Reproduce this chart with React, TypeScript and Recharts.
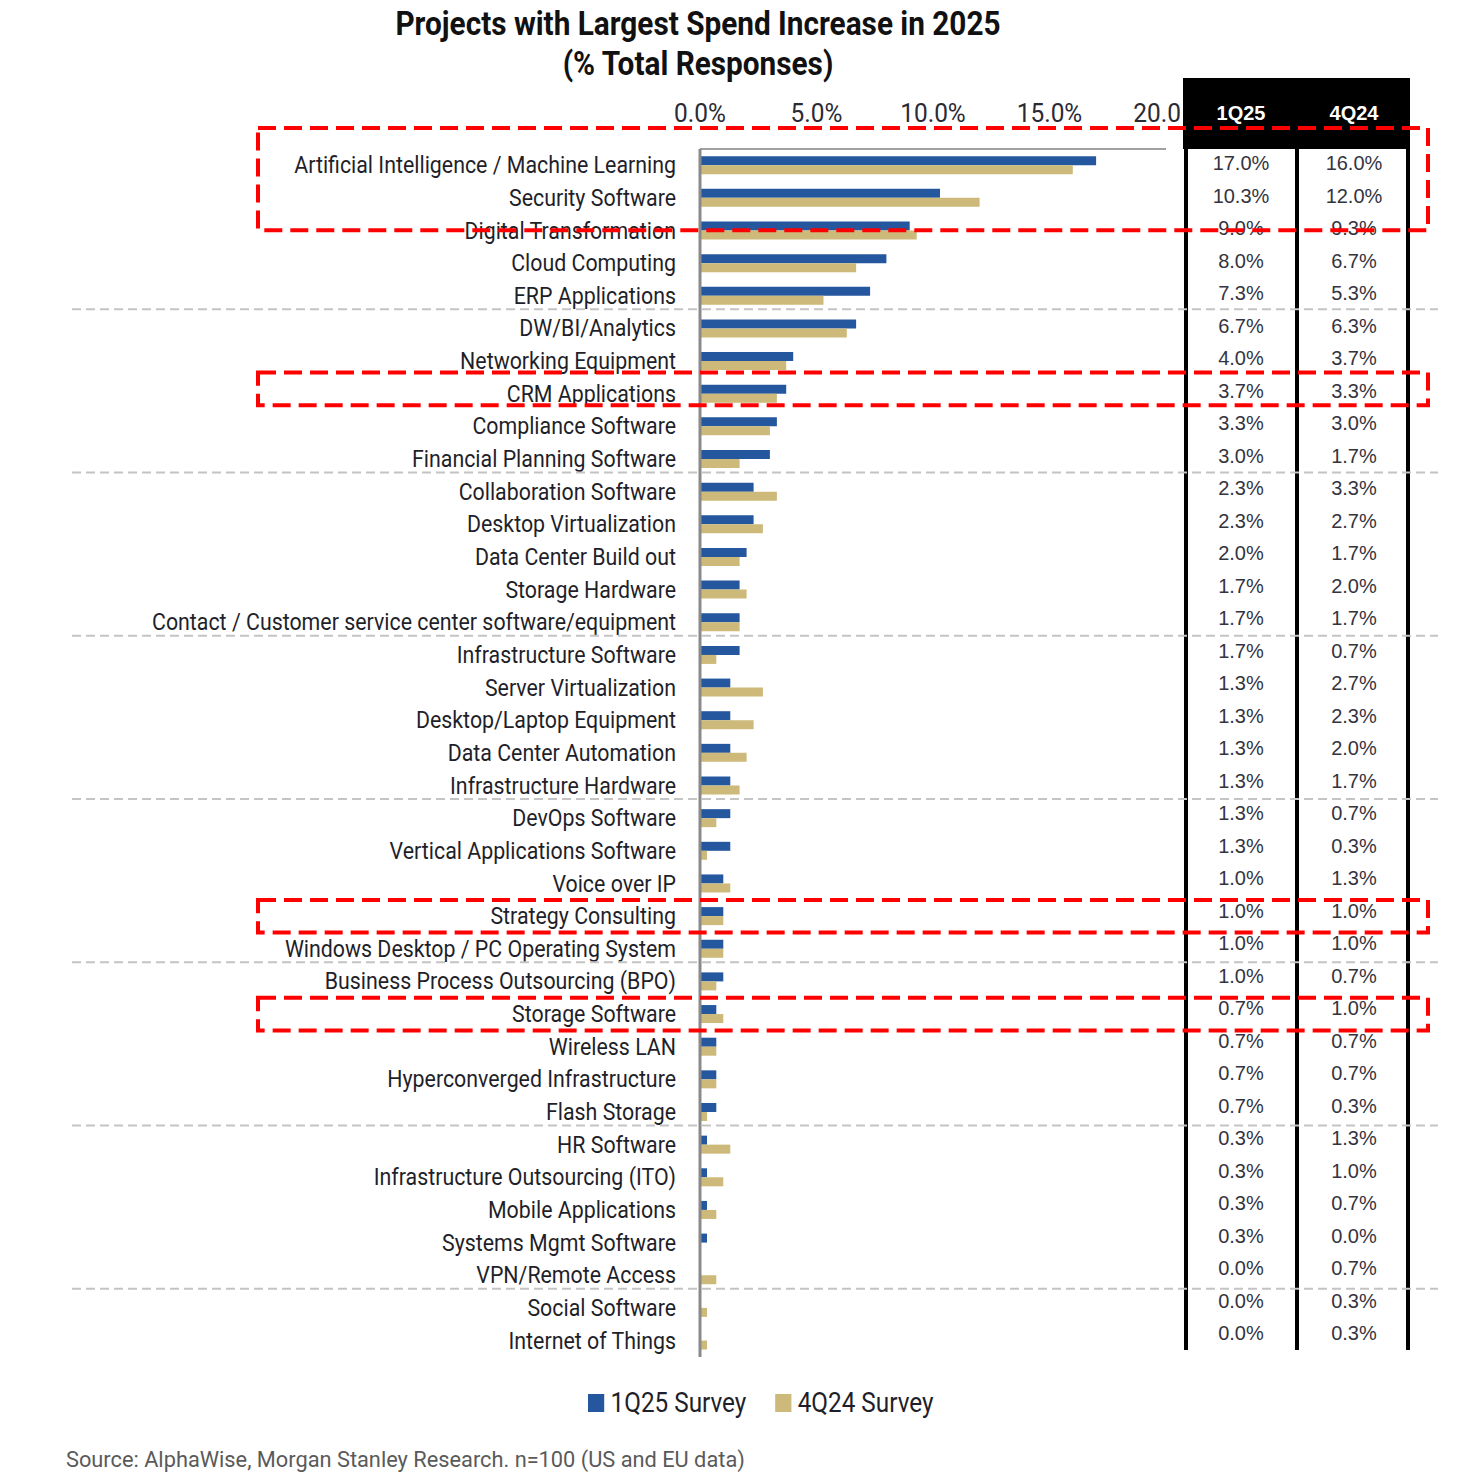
import React from 'react';
import { BarChart, Bar, XAxis, YAxis } from 'recharts';

const categories = [
  'Artificial Intelligence / Machine Learning',
  'Security Software',
  'Digital Transformation',
  'Cloud Computing',
  'ERP Applications',
  'DW/BI/Analytics',
  'Networking Equipment',
  'CRM Applications',
  'Compliance Software',
  'Financial Planning Software',
  'Collaboration Software',
  'Desktop Virtualization',
  'Data Center Build out',
  'Storage Hardware',
  'Contact / Customer service center software/equipment',
  'Infrastructure Software',
  'Server Virtualization',
  'Desktop/Laptop Equipment',
  'Data Center Automation',
  'Infrastructure Hardware',
  'DevOps Software',
  'Vertical Applications Software',
  'Voice over IP',
  'Strategy Consulting',
  'Windows Desktop / PC Operating System',
  'Business Process Outsourcing (BPO)',
  'Storage Software',
  'Wireless LAN',
  'Hyperconverged Infrastructure',
  'Flash Storage',
  'HR Software',
  'Infrastructure Outsourcing (ITO)',
  'Mobile Applications',
  'Systems Mgmt Software',
  'VPN/Remote Access',
  'Social Software',
  'Internet of Things',
];

const survey1Q25 = [
  17.0, 10.3, 9.0, 8.0, 7.3, 6.7, 4.0, 3.7, 3.3, 3.0, 2.3, 2.3, 2.0, 1.7, 1.7, 1.7, 1.3, 1.3, 1.3,
  1.3, 1.3, 1.3, 1.0, 1.0, 1.0, 1.0, 0.7, 0.7, 0.7, 0.7, 0.3, 0.3, 0.3, 0.3, 0.0, 0.0, 0.0,
];

const survey4Q24 = [
  16.0, 12.0, 9.3, 6.7, 5.3, 6.3, 3.7, 3.3, 3.0, 1.7, 3.3, 2.7, 1.7, 2.0, 1.7, 0.7, 2.7, 2.3, 2.0,
  1.7, 0.7, 0.3, 1.3, 1.0, 1.0, 0.7, 1.0, 0.7, 0.7, 0.3, 1.3, 1.0, 0.7, 0.0, 0.7, 0.3, 0.3,
];

const axisTicks = [0, 5, 10, 15, 20];
const tableHeaders = ['1Q25', '4Q24'];
const separatorEvery = 5;
// rows to highlight: [first row, last row, extra top, extra bottom]
const highlights = [
  [0, 1, 21, 16],
  [7, 7, 5, -5],
  [23, 23, 0, 0],
  [26, 26, 0, 0],
];

const BLUE = '#25579E';
const GOLD = '#CDB979';
const FONT = 'Roboto, "Noto Sans", sans-serif';

const PLOT_TOP = 149;
const PLOT_BOTTOM = 1357;
const PLOT_LEFT = 700;
const PLOT_RIGHT = 1166;
const ROW_H = (PLOT_BOTTOM - PLOT_TOP) / categories.length;

const data = categories.map((name, i) => ({ name, q1: survey1Q25[i], q4: survey4Q24[i] }));

const CategoryTick = (props: any) => {
  const { x, y, payload } = props;
  return (
    <text
      transform={`translate(${x},${y}) scale(0.89,1)`}
      textAnchor="end"
      dominantBaseline="central"
      fontFamily={FONT}
      fontSize={24}
      fill="#1f1f2a"
    >
      {payload.value}
    </text>
  );
};

const PercentTick = (props: any) => {
  const { x, y, payload } = props;
  return (
    <text
      transform={`translate(${x},${y}) scale(0.94,1)`}
      textAnchor="middle"
      fontFamily={FONT}
      fontSize={26}
      fill="#2a2a35"
    >
      {Number(payload.value).toFixed(1)}%
    </text>
  );
};

const App: React.FC = () => {
  const tableTop = 163;
  const tableRowH = 32.5;
  const colCenters = [1241, 1354];
  return (
    <div style={{ position: 'absolute', left: 0, top: 0, width: 1468, height: 1478, background: '#fff', overflow: 'hidden' }}>
      <div
        style={{
          position: 'absolute',
          left: 0,
          top: 3,
          width: 1396,
          textAlign: 'center',
          fontFamily: FONT,
          fontWeight: 700,
          fontSize: 34,
          lineHeight: '40px',
          color: '#111',
          transform: 'scaleX(0.875)',
          transformOrigin: '698px 0',
        }}
      >
        Projects with Largest Spend Increase in 2025
        <br />
        (% Total Responses)
      </div>

      <div style={{ position: 'absolute', left: 0, top: 0 }}>
        <BarChart
          width={PLOT_RIGHT + 14}
          height={PLOT_BOTTOM + 3}
          data={data}
          layout="vertical"
          margin={{ top: 0, right: 14, bottom: 3, left: 0 }}
          barCategoryGap="22%"
          barGap={0}
        >
          <XAxis
            type="number"
            orientation="top"
            domain={[0, 20]}
            ticks={axisTicks}
            height={PLOT_TOP}
            tickLine={false}
            tickSize={0}
            tickMargin={27}
            axisLine={{ stroke: '#a0a0a0', strokeWidth: 2 }}
            tick={<PercentTick />}
            interval={0}
          />
          <YAxis
            type="category"
            dataKey="name"
            width={PLOT_LEFT}
            tickLine={false}
            tickSize={0}
            tickMargin={24}
            axisLine={{ stroke: '#8a8a8a', strokeWidth: 3 }}
            tick={<CategoryTick />}
            interval={0}
          />
          <Bar dataKey="q1" fill={BLUE} isAnimationActive={false} />
          <Bar dataKey="q4" fill={GOLD} isAnimationActive={false} />
        </BarChart>
      </div>

      {/* table */}
      <div style={{ position: 'absolute', left: 1183, top: 78, width: 227, height: 71, background: '#000' }} />
      {[1184, 1295, 1406].map((x) => (
        <div key={x} style={{ position: 'absolute', left: x, top: 140, width: 4, height: 1210, background: '#000' }} />
      ))}
      {tableHeaders.map((h, c) => (
        <div
          key={h}
          style={{
            position: 'absolute',
            left: colCenters[c] - 50,
            width: 100,
            top: 100,
            textAlign: 'center',
            fontFamily: '"Liberation Sans", Arial, sans-serif',
            fontWeight: 700,
            fontSize: 20,
            lineHeight: '26px',
            color: '#fff',
          }}
        >
          {h}
        </div>
      ))}
      {[survey1Q25, survey4Q24].map((col, c) =>
        col.map((v, i) => (
          <div
            key={`${c}-${i}`}
            style={{
              position: 'absolute',
              left: colCenters[c] - 50,
              width: 100,
              top: tableTop + i * tableRowH - 13,
              textAlign: 'center',
              fontFamily: '"Liberation Sans", Arial, sans-serif',
              fontSize: 20,
              lineHeight: '26px',
              color: '#34343f',
            }}
          >
            {v.toFixed(1)}%
          </div>
        ))
      )}

      <svg width={1468} height={1478} style={{ position: 'absolute', left: 0, top: 0, pointerEvents: 'none' }}>
        {categories.map((_, i) =>
          i > 0 && i % separatorEvery === 0 ? (
            <line
              key={i}
              x1={72}
              x2={1438}
              y1={PLOT_TOP + i * ROW_H - 3}
              y2={PLOT_TOP + i * ROW_H - 3}
              stroke="#c4c4c4"
              strokeWidth={2}
              strokeDasharray="9 5"
            />
          ) : null
        )}
        {highlights.map(([a, b, up, down], k) => {
          const top = PLOT_TOP + a * ROW_H - up;
          const bottom = PLOT_TOP + (b + 1) * ROW_H + down;
          return (
            <rect
              key={k}
              x={258}
              y={top}
              width={1170}
              height={bottom - top}
              fill="none"
              stroke="#ff0000"
              strokeWidth={4}
              strokeDasharray="18 8"
            />
          );
        })}
      </svg>

      {/* legend */}
      <div
        style={{
          position: 'absolute',
          left: 588,
          top: 1387,
          display: 'flex',
          alignItems: 'center',
          fontFamily: FONT,
          fontSize: 27,
          color: '#1f1f2a',
          transform: 'scaleX(0.9)',
          transformOrigin: '0 0',
          whiteSpace: 'nowrap',
        }}
      >
        <span style={{ width: 18, height: 18, background: BLUE, display: 'inline-block', marginRight: 7 }} />
        <span style={{ marginRight: 32 }}>1Q25 Survey</span>
        <span style={{ width: 18, height: 18, background: GOLD, display: 'inline-block', marginRight: 7 }} />
        <span>4Q24 Survey</span>
      </div>

      <div
        style={{
          position: 'absolute',
          left: 66,
          top: 1447,
          fontFamily: FONT,
          fontSize: 22,
          color: '#5a5a5a',
          whiteSpace: 'nowrap',
          transform: 'scaleX(0.99)',
          transformOrigin: '0 0',
        }}
      >
        Source: AlphaWise, Morgan Stanley Research. n=100 (US and EU data)
      </div>
    </div>
  );
};

export default App;
